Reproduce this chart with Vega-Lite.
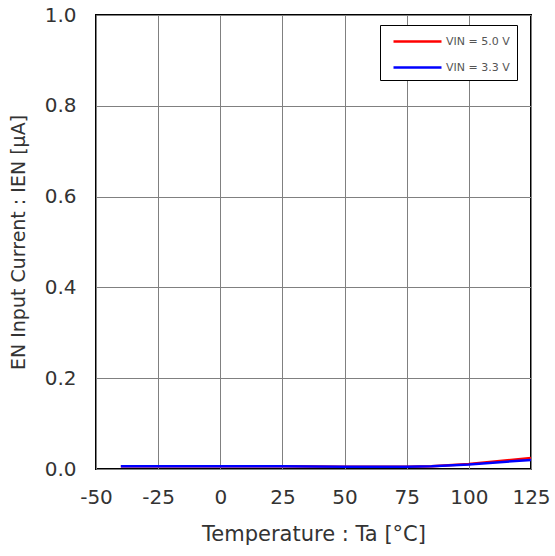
{
  "$schema": "https://vega.github.io/schema/vega-lite/v6.json",
  "autosize": {"type": "none"},
  "padding": {"left": 96, "top": 15, "right": 24, "bottom": 87},
  "width": 435,
  "height": 454,
  "background": "white",
  "config": {
    "view": {"stroke": "black", "strokeWidth": 2},
    "font": "DejaVu Sans",
    "axis": {
      "domain": false,
      "ticks": false,
      "gridColor": "#808080",
      "gridWidth": 1,
      "gridOpacity": 1,
      "labelFont": "DejaVu Sans",
      "labelFontSize": 20,
      "labelColor": "#333333",
      "labelFlush": false,
      "labelOverlap": false,
      "titleFont": "DejaVu Sans",
      "titleFontSize": 19,
      "titleFontWeight": "normal",
      "titleColor": "#333333"
    }
  },
  "data": {
    "values": [
      {"t": -40, "i": 0.006, "s": "VIN = 5.0 V"},
      {"t": -25, "i": 0.006, "s": "VIN = 5.0 V"},
      {"t": 0, "i": 0.006, "s": "VIN = 5.0 V"},
      {"t": 25, "i": 0.006, "s": "VIN = 5.0 V"},
      {"t": 50, "i": 0.005, "s": "VIN = 5.0 V"},
      {"t": 75, "i": 0.005, "s": "VIN = 5.0 V"},
      {"t": 85, "i": 0.006, "s": "VIN = 5.0 V"},
      {"t": 100, "i": 0.011, "s": "VIN = 5.0 V"},
      {"t": 125, "i": 0.024, "s": "VIN = 5.0 V"},
      {"t": -40, "i": 0.006, "s": "VIN = 3.3 V"},
      {"t": -25, "i": 0.006, "s": "VIN = 3.3 V"},
      {"t": 0, "i": 0.006, "s": "VIN = 3.3 V"},
      {"t": 25, "i": 0.006, "s": "VIN = 3.3 V"},
      {"t": 50, "i": 0.005, "s": "VIN = 3.3 V"},
      {"t": 75, "i": 0.005, "s": "VIN = 3.3 V"},
      {"t": 85, "i": 0.006, "s": "VIN = 3.3 V"},
      {"t": 100, "i": 0.010, "s": "VIN = 3.3 V"},
      {"t": 125, "i": 0.020, "s": "VIN = 3.3 V"}
    ]
  },
  "mark": {"type": "line", "strokeWidth": 2.5, "clip": true},
  "encoding": {
    "x": {
      "field": "t", "type": "quantitative",
      "scale": {"domain": [-50, 125], "nice": false, "zero": false},
      "axis": {"values": [-50, -25, 0, 25, 50, 75, 100, 125], "labelExpr": "replace(datum.label, '−', '-')", "labelPadding": 18, "title": "Temperature : Ta [°C]", "titlePadding": 16, "titleFontSize": 21}
    },
    "y": {
      "field": "i", "type": "quantitative",
      "scale": {"domain": [0, 1], "nice": false},
      "axis": {"values": [0, 0.2, 0.4, 0.6, 0.8, 1.0], "format": ".1f", "labelPadding": 20, "title": "EN Input Current : IEN [μA]", "titlePadding": 16}
    },
    "color": {
      "field": "s", "type": "nominal",
      "scale": {"domain": ["VIN = 5.0 V", "VIN = 3.3 V"], "range": ["#ff0000", "#0000ff"]},
      "legend": {
        "title": null,
        "orient": "none",
        "legendX": 284,
        "legendY": 10,
        "symbolType": "M-3,0H3",
        "symbolSize": 256,
        "symbolOffset": 21,
        "symbolStrokeWidth": 2.5,
        "labelFontSize": 11,
        "labelColor": "#555555",
        "labelFont": "DejaVu Sans",
        "labelOffset": 19,
        "rowPadding": 11,
        "padding": 7,
        "strokeColor": "black",
        "fillColor": "white"
      }
    },
    "order": {"field": "s", "sort": "descending"}
  }
}
